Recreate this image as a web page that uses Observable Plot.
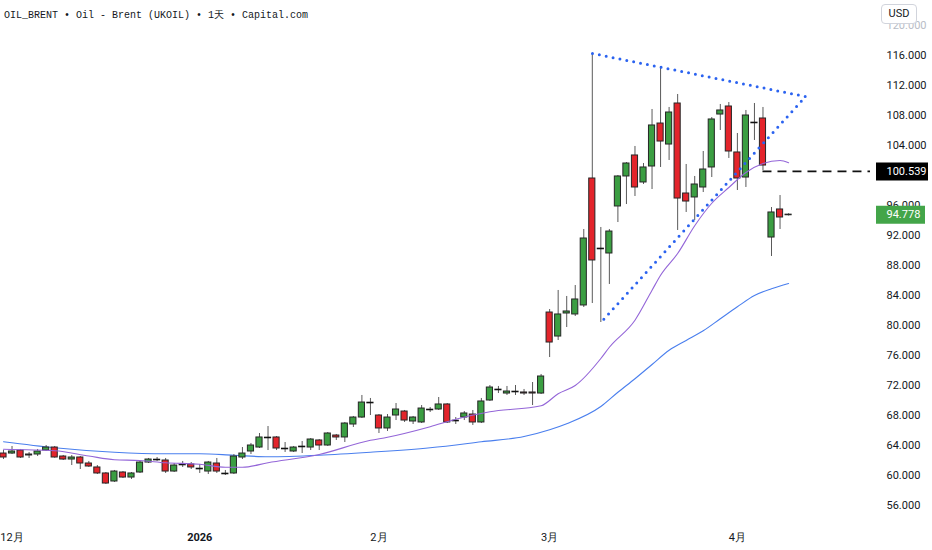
<!DOCTYPE html>
<html><head><meta charset="utf-8">
<script src="https://cdn.jsdelivr.net/npm/d3@7"></script>
<script src="https://cdn.jsdelivr.net/npm/@observablehq/plot@0.6"></script>
<style>
html,body{margin:0;padding:0;background:#fff;}
#wrap{position:relative;width:932px;height:550px;overflow:hidden;}
#title{position:absolute;left:4px;top:8px;font:10px "Liberation Mono",monospace;color:#131722;white-space:pre;}
#usd{position:absolute;left:881px;top:4px;width:34px;height:18px;border:1px solid #d1d4dc;border-radius:4px;background:#fff;font:11px Roboto,sans-serif;color:#131722;text-align:center;line-height:18px;}
</style></head><body>
<div id="wrap"><div id="chart"></div><div id="title">OIL_BRENT • Oil - Brent (UKOIL) • 1天 • Capital.com</div><div id="usd">USD</div></div>
<script>
// Daily candles (index 0 = 28 Nov 2025 ... index 92 = latest bar)
const opens = [62.93,62.93,63.33,62.67,62.80,63.33,63.73,62.53,62.13,62.40,61.60,61.07,60.27,59.20,60.40,59.73,60.40,61.73,62.13,62.00,60.53,61.47,61.47,60.93,60.53,61.60,60.27,60.27,62.40,63.20,63.73,65.07,65.07,63.60,63.20,63.87,63.73,64.67,64.00,65.33,65.07,66.80,67.73,69.73,68.00,66.27,68.00,68.53,67.20,67.07,68.80,68.80,69.47,67.33,67.73,68.13,67.07,70.00,71.47,70.93,71.20,71.07,71.07,70.93,81.73,78.53,81.60,81.47,82.67,99.60,90.27,89.60,95.87,99.87,102.67,99.07,101.20,106.93,104.13,109.60,97.60,97.07,98.40,101.07,108.13,109.20,103.07,99.73,107.07,107.60,91.73,95.47,94.70];
const highs = [63.33,63.87,63.47,63.07,63.47,64.00,63.87,62.67,62.67,62.53,61.87,61.33,60.40,60.67,60.53,60.40,61.87,62.27,62.40,62.27,61.60,61.87,61.73,61.47,61.87,62.27,60.67,62.80,63.73,64.27,65.60,66.53,65.20,64.40,63.87,64.53,64.93,64.80,65.73,65.47,67.07,67.87,70.67,70.27,68.13,68.13,69.60,68.67,67.87,69.33,69.07,70.40,69.60,67.73,68.53,68.67,70.27,72.00,71.87,71.87,72.00,71.47,72.40,73.47,82.13,84.67,83.87,85.33,92.80,116.27,93.07,92.80,100.00,101.73,103.87,101.60,108.80,114.53,109.07,110.80,101.47,99.87,103.20,107.73,109.47,109.73,105.60,108.67,109.60,109.07,95.73,97.33,94.90];
const lows = [62.13,62.80,62.27,62.27,62.53,63.20,62.30,62.00,61.33,60.80,61.07,60.13,58.80,59.07,59.60,59.47,60.27,61.60,61.87,60.27,60.40,61.07,60.80,60.27,60.13,60.27,60.00,60.13,62.13,62.80,63.60,63.33,63.33,63.07,63.07,62.93,63.33,63.33,63.87,64.67,64.40,66.40,67.60,68.00,65.60,65.87,67.33,67.07,66.80,66.93,68.40,68.67,66.93,66.80,67.33,66.67,66.93,69.87,70.93,70.67,70.67,70.67,69.33,70.80,75.73,78.00,79.73,81.20,82.40,82.93,80.40,85.47,93.73,96.13,97.20,98.80,98.13,101.07,102.00,92.67,95.07,94.00,97.73,99.73,106.00,102.27,98.00,98.40,104.67,100.67,89.20,92.80,94.60];
const closes = [62.40,63.20,62.40,62.80,63.20,63.73,62.40,62.13,62.40,61.60,61.20,60.27,58.93,60.53,59.73,60.27,61.73,62.13,62.13,60.53,61.33,61.47,61.07,60.93,61.73,60.53,60.27,62.53,62.93,64.00,65.07,65.07,63.60,63.60,63.73,63.87,64.80,64.00,65.60,65.07,66.93,67.73,69.73,69.73,66.27,67.73,68.80,67.33,67.73,68.93,68.80,69.47,67.07,67.33,68.27,67.07,69.87,71.73,71.47,71.20,71.20,70.93,70.93,73.20,77.73,81.47,81.87,83.47,91.60,88.67,90.27,92.53,99.87,101.60,98.40,101.07,106.67,104.53,108.40,96.93,96.53,98.80,100.80,107.47,108.67,103.20,99.60,108.00,107.07,101.33,95.07,94.40,94.78];

// Moving averages (bar index, price)
const maFastIdx = [0,6,10,13,16,19,23,26,28,31,37,43,45,50,53,57,63,65,67,70,71,74,76,77,79,81,83,85,87,89,91,92];
const maFastVal = [63.5,63.3,62.6,62.1,62.0,61.7,61.5,61.1,61.1,61.7,62.8,64.7,65.1,66.5,67.5,68.5,69.3,70.9,72.0,75.6,77.1,80.7,84.7,86.7,89.6,93.3,96.3,98.4,100.4,101.6,102.0,101.7];
const maSlowIdx = [0,6,13,19,23,27,31,37,43,50,56,61,64,66,70,72,74,76,78,80,82,84,86,88,90,92];
const maSlowVal = [64.5,63.7,63.1,62.9,62.9,62.7,62.5,62.7,63.1,63.7,64.5,65.2,66.1,66.9,69.2,71.1,72.9,74.8,76.7,78.0,79.3,80.9,82.5,84.0,84.9,85.6];

// Triangle drawing (bar index, price)
const triIdx = [69.02, 94, 70];
const triVal = [116.27, 110.53, 80.4];

// Horizontal level and last price
const levelIdx = 89;
const levelVal = 100.539;
const lastPrice = 94.778;

// Axis ticks (100.000 sits under the level label box)
const priceTicks = [56,60,64,68,72,76,80,84,88,92,96,104,108,112,116];
const topTick = [120];
const monthTickIdx = [1,44,64,86];
const monthTickLabels = ["12月","2月","3月","4月"];
const yearTickIdx = [23];
const yearTickLabels = ["2026"];

const xDomain = [-0.35, 101.6];
const candles = opens.map((o,i)=>({i, open:o, high:highs[i], low:lows[i], close:closes[i]}));
const bodies = candles.filter(d=>d.open!==d.close);
const dojis = candles.filter(d=>d.open===d.close);
const maFast = maFastIdx.map((i,k)=>({i, v:maFastVal[k]}));
const maSlow = maSlowIdx.map((i,k)=>({i, v:maSlowVal[k]}));
const tri = triIdx.map((i,k)=>({i, v:triVal[k]}));

const GREEN="#3B9E42", RED="#E3242B";
const fmt = d=>d.toFixed(3);

const chart = Plot.plot({
  width:932, height:550,
  marginLeft:0, marginRight:62, marginTop:0, marginBottom:20,
  x:{domain:xDomain},
  y:{domain:[52.6667,123.3333]},
  style:{fontFamily:"Roboto, sans-serif", fontSize:"11px", color:"#131722", background:"white", overflow:"visible"},
  marks:[
    Plot.line(maSlow,{x:"i",y:"v",stroke:"#4A7FEE",strokeWidth:1.1,curve:"monotone-x"}),
    Plot.ruleX(candles,{x:"i",y1:"low",y2:"high",stroke:"#5a5a5a",strokeWidth:1}),
    Plot.rect(bodies,{x1:d=>d.i-0.36,x2:d=>d.i+0.36,y1:"open",y2:"close",fill:d=>d.close>d.open?GREEN:RED,stroke:"#262626",strokeWidth:1}),
    Plot.ruleY(dojis,{y:"open",x1:d=>d.i-0.42,x2:d=>d.i+0.42,stroke:"#111",strokeWidth:1.6}),
    Plot.line(maFast,{x:"i",y:"v",stroke:"#9466D8",strokeWidth:1.1,curve:"monotone-x"}),
    Plot.line(tri,{x:"i",y:"v",stroke:"#2B63F0",strokeWidth:3,strokeDasharray:"0 7",strokeLinecap:"round"}),
    Plot.ruleY([{i:levelIdx,v:levelVal}],{x1:"i",x2:()=>xDomain[1],y:"v",stroke:"#111",strokeWidth:1.8,strokeDasharray:"9,6"}),
    Plot.axisY(priceTicks,{anchor:"right",tickSize:0,tickPadding:16,tickFormat:fmt,textAnchor:"start",fill:"#131722",fontSize:11,label:null}),
    Plot.axisY(topTick,{anchor:"right",tickSize:0,tickPadding:16,tickFormat:fmt,textAnchor:"start",fill:"#b8bcc6",fontSize:11,label:null}),
    Plot.ruleY([levelVal],{y:d=>d,stroke:"#000",strokeWidth:18,insetLeft:876,insetRight:-58}),
    Plot.text([levelVal],{y:d=>d,text:fmt,frameAnchor:"right",dx:16,textAnchor:"start",fill:"white",fontSize:11}),
    Plot.ruleY([lastPrice],{y:d=>d,stroke:"#43A549",strokeWidth:18,insetLeft:876,insetRight:-55}),
    Plot.text([lastPrice],{y:d=>d,text:fmt,frameAnchor:"right",dx:16,textAnchor:"start",fill:"white",fontSize:11}),
    Plot.axisX(monthTickIdx,{anchor:"bottom",tickSize:0,tickPadding:3,tickFormat:(d)=>monthTickLabels[monthTickIdx.indexOf(d)],fill:"#131722",fontSize:11,label:null}),
    Plot.axisX(yearTickIdx,{anchor:"bottom",tickSize:0,tickPadding:3,tickFormat:(d)=>yearTickLabels[yearTickIdx.indexOf(d)],fill:"#131722",fontSize:11,fontWeight:"bold",label:null})
  ]
});
document.getElementById("chart").appendChild(chart);
</script>
</body></html>
